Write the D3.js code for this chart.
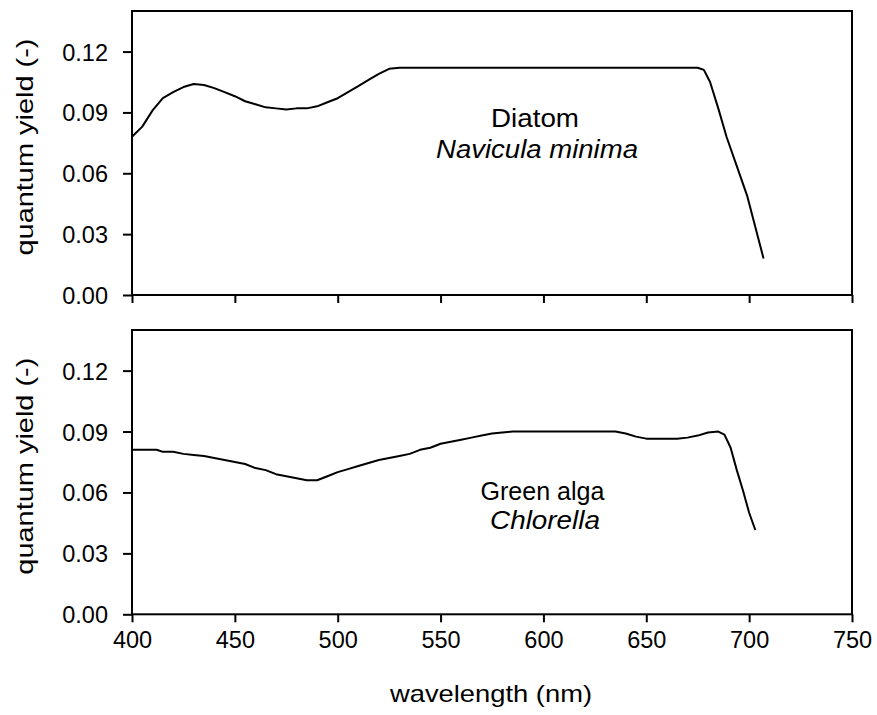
<!DOCTYPE html>
<html><head><meta charset="utf-8">
<script src="https://cdn.jsdelivr.net/npm/d3@7"></script>
<style>body{margin:0;background:#fff}svg{display:block}text{font-family:"Liberation Sans",Arial,sans-serif;fill:#000}</style>
</head><body>
<script>
const xTicks = [400,450,500,550,600,650,700,750];
const yTicks = [0,0.03,0.06,0.09,0.12];
const diatomWl = [400,405,410,415,420,425,430,435,440,445,450,455,460,465,470,475,480,485,490,495,500,505,510,515,520,525,530,540,560,580,600,620,640,660,675,678,681,685,689,694,699,707];
const diatomQ  = [0.078,0.083,0.091,0.097,0.100,0.1025,0.104,0.1035,0.102,0.100,0.098,0.0955,0.094,0.0925,0.092,0.0915,0.092,0.092,0.093,0.095,0.097,0.100,0.103,0.106,0.109,0.1115,0.112,0.112,0.112,0.112,0.112,0.112,0.112,0.112,0.112,0.111,0.105,0.092,0.078,0.0635,0.049,0.018];
const algaWl = [400,405,412,415,420,425,430,435,440,445,450,455,460,465,470,475,480,485,490,495,500,505,510,515,520,525,530,535,540,545,550,555,560,565,570,575,580,585,600,620,635,640,645,650,655,665,670,675,680,685,688,691,694,697,700,703];
const algaQ  = [0.081,0.081,0.081,0.080,0.080,0.079,0.0785,0.078,0.077,0.076,0.075,0.074,0.072,0.071,0.069,0.068,0.067,0.066,0.066,0.068,0.070,0.0715,0.073,0.0745,0.076,0.077,0.078,0.079,0.081,0.082,0.084,0.085,0.086,0.087,0.088,0.089,0.0895,0.090,0.090,0.090,0.090,0.089,0.0875,0.0865,0.0865,0.0865,0.087,0.088,0.0895,0.090,0.0885,0.082,0.071,0.061,0.050,0.0415];
const yTitle = "quantum yield (-)";
const xTitle = "wavelength (nm)";

const W = 877, H = 715;
const svg = d3.select("body").append("svg").attr("width",W).attr("height",H);
const x = d3.scaleLinear().domain([400,750]).range([132,852]);

const panels = [
  {top:11, bottom:295, wl:diatomWl, q:diatomQ, labels:["Diatom","Navicula minima"], lx:[535,537], ly:[127,158], tl:[88,202], showX:false},
  {top:330, bottom:614.3, wl:algaWl, q:algaQ, labels:["Green alga","Chlorella"], lx:[542.5,545], ly:[500,529], tl:[124,110], showX:true}
];

panels.forEach(p => {
  const y = d3.scaleLinear().domain([0,0.14]).range([p.bottom,p.top]);
  const g = svg.append("g");
  g.append("rect").attr("x",x(400)).attr("y",p.top).attr("width",x(750)-x(400)).attr("height",p.bottom-p.top)
    .attr("fill","none").attr("stroke","#000").attr("stroke-width",2);
  const ya = d3.axisLeft(y).tickValues(yTicks).tickFormat(d3.format(".2f")).tickSize(9).tickPadding(15);
  const yg = g.append("g").attr("transform",`translate(${x(400)},0)`).call(ya);
  yg.select(".domain").remove();
  yg.selectAll("line").attr("stroke-width",2);
  yg.selectAll("text").style("font-size","23.5px").attr("dy","0.36em");
  const xa = d3.axisBottom(x).tickValues(xTicks).tickSize(8).tickPadding(9).tickFormat(p.showX ? d3.format("d") : () => "");
  const xg = g.append("g").attr("transform",`translate(0,${p.bottom})`).call(xa);
  xg.select(".domain").remove();
  xg.selectAll("line").attr("stroke-width",2);
  xg.selectAll("text").style("font-size","23.5px");
  const data = p.wl.map((w,i)=>[w,p.q[i]]);
  g.append("path").datum(data).attr("fill","none").attr("stroke","#000").attr("stroke-width",2)
    .attr("stroke-linejoin","round")
    .attr("d", d3.line().x(d=>x(d[0])).y(d=>y(d[1])));
  g.append("text").attr("x",p.lx[0]).attr("y",p.ly[0]).attr("text-anchor","middle").style("font-size","25px")
    .attr("textLength",p.tl[0]).attr("lengthAdjust","spacingAndGlyphs").text(p.labels[0]);
  g.append("text").attr("x",p.lx[1]).attr("y",p.ly[1]).attr("text-anchor","middle").style("font-size","25px").style("font-style","italic")
    .attr("textLength",p.tl[1]).attr("lengthAdjust","spacingAndGlyphs").text(p.labels[1]);
  g.append("text").attr("transform",`translate(33,${(p.top+p.bottom)/2-6}) rotate(-90)`).attr("text-anchor","middle").style("font-size","24px")
    .attr("textLength",217).attr("lengthAdjust","spacingAndGlyphs").text(yTitle);
});

svg.append("text").attr("x",491).attr("y",702).attr("text-anchor","middle").style("font-size","24px")
  .attr("textLength",202).attr("lengthAdjust","spacingAndGlyphs").text(xTitle);
</script>
</body></html>
